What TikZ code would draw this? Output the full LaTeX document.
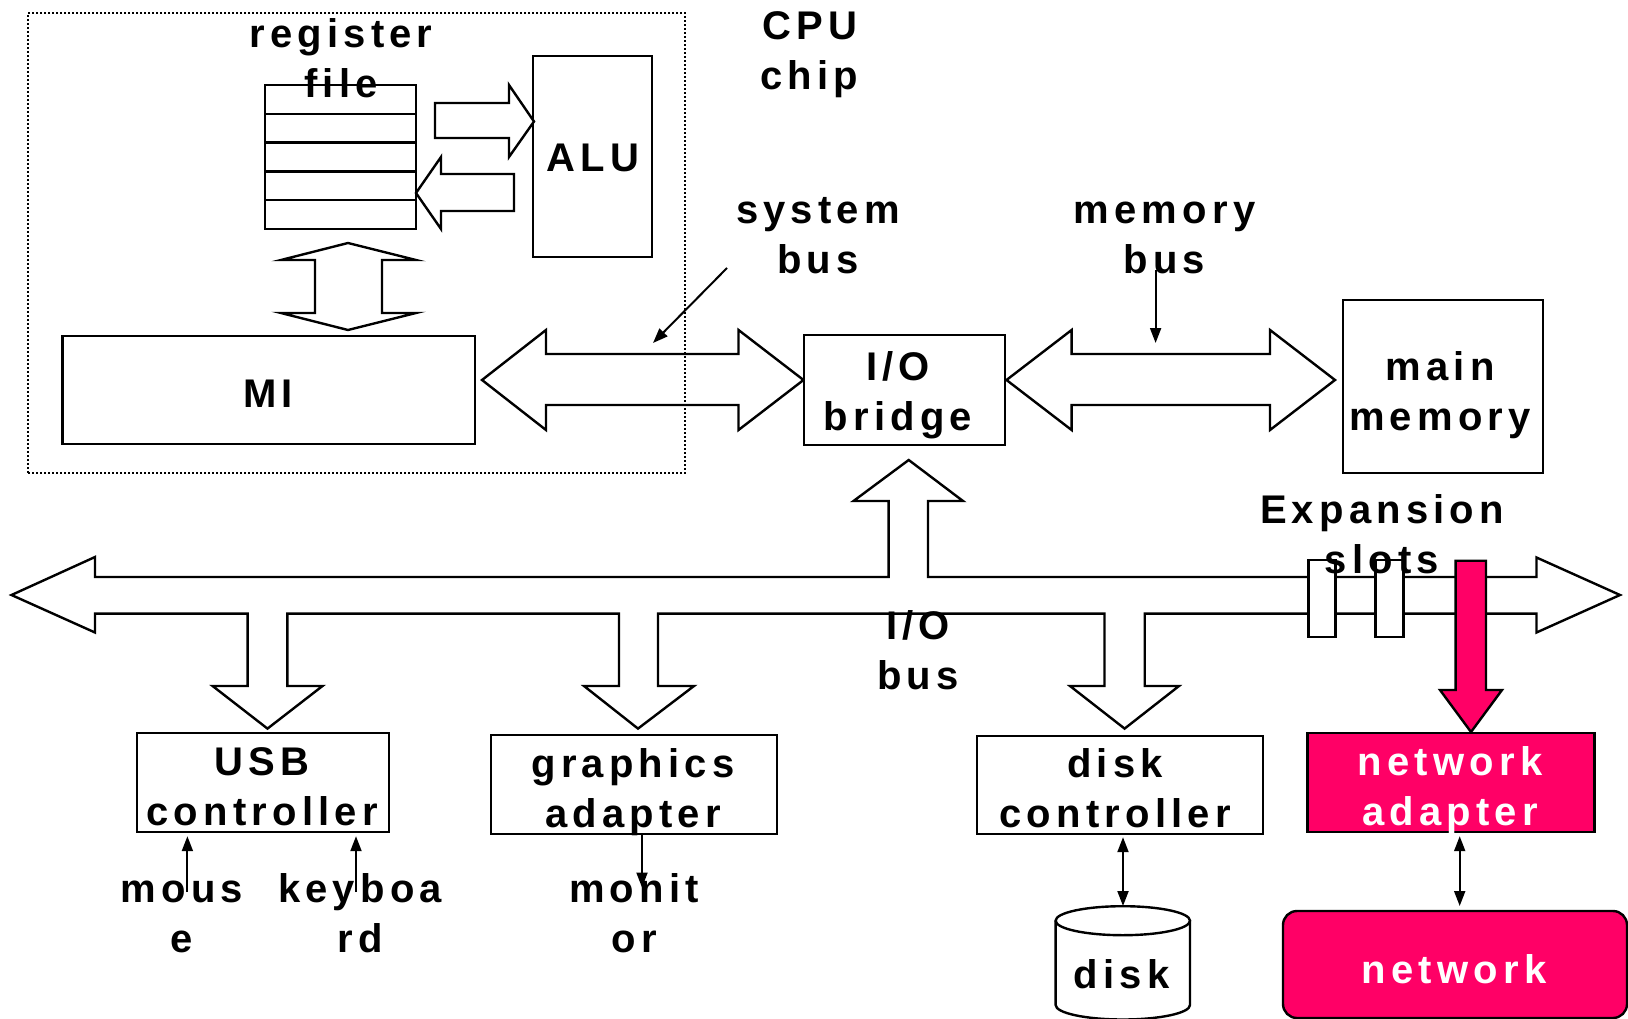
\documentclass[tikz,border=0pt]{standalone}
\usepackage{fontspec}
\setmainfont{Liberation Sans}[LetterSpace=13]
\usetikzlibrary{arrows.meta}
\definecolor{netred}{RGB}{255,0,102}
\begin{document}
\begin{tikzpicture}[x=1pt,y=-1pt,line join=miter,
  outline/.style={draw,line width=2.4pt,fill=white},
  boxnode/.style={draw,line width=2.4pt,fill=white,inner sep=0pt},
  redbox/.style={boxnode,fill=netred},
  lbl/.style={font=\bfseries\fontsize{40}{50}\selectfont,align=center,inner sep=0pt,anchor=base},
  wlbl/.style={lbl,text=white},
  ptr/.style={line width=2pt,-{Triangle[length=15pt,width=11pt]}},
  dptr/.style={line width=2pt,{Triangle[length=15pt,width=11pt]}-{Triangle[length=15pt,width=11pt]}}]

\fill[white] (0,0) rectangle (1628,1019);
\useasboundingbox (0,0) rectangle (1628,1019);

% ---------- I/O bus with its branches ----------
\draw[outline] (11.5,595) -- (95,557) -- (95,577) -- (888.6,577) -- (888.6,501)
  -- (853.5,501) -- (908.7,460) -- (963,501) -- (928,501) -- (928,577)
  -- (1536.5,577) -- (1536.5,557.5) -- (1620,595) -- (1536.5,632.5) -- (1536.5,613.6)
  -- (1144.7,613.6) -- (1144.7,686) -- (1179,686) -- (1124.6,728.6) -- (1070,686)
  -- (1104.5,686) -- (1104.5,613.6) -- (658,613.6) -- (658,686) -- (694,686)
  -- (638,728.6) -- (584,686) -- (619,686) -- (619,613.6) -- (287.4,613.6)
  -- (287.4,686) -- (322.5,686) -- (267.5,728.6) -- (212.6,686) -- (247.6,686)
  -- (247.6,613.6) -- (95,613.6) -- (95,632.5) -- cycle;

% expansion slots
\node[boxnode,minimum width=27pt,minimum height=77pt] (slot1) at (1322,598.4) {};
\node[boxnode,minimum width=28pt,minimum height=77pt] (slot2) at (1389.6,598.4) {};

% card plugged into the third slot
\draw[outline,fill=netred] (1455.6,560.7) -- (1486,560.7) -- (1486,690) -- (1502,690)
  -- (1471,732) -- (1440,690) -- (1455.6,690) -- cycle;

% ---------- system bus and memory bus ----------
\draw[outline] (482,380) -- (546,330) -- (546,354) -- (738.5,354) -- (738.5,330)
  -- (803.5,380) -- (738.5,430) -- (738.5,405) -- (546,405) -- (546,430) -- cycle;
\draw[outline] (1006.5,380) -- (1071.6,330) -- (1071.6,354) -- (1270,354) -- (1270,330)
  -- (1335,380) -- (1270,430) -- (1270,405) -- (1071.6,405) -- (1071.6,430) -- cycle;

% ---------- CPU chip ----------
\node[draw,line width=2.2pt,dash pattern=on 2pt off 2pt,minimum width=657pt,minimum height=460pt,inner sep=0pt]
  (cpu) at (356.5,242.9) {};

% register file
\node[boxnode,minimum width=151pt,minimum height=144pt] (reg) at (340.5,157) {};
\foreach \y in {113.8,142.6,171.4,200.2}
  \draw[line width=2.4pt] (265,\y) -- (416,\y);

\node[boxnode,minimum width=119pt,minimum height=201pt] (alu) at (592.5,156.5) {};

% data paths between register file and ALU
\draw[outline] (435,103) -- (509,103) -- (509,85) -- (534,121.5) -- (509,157)
  -- (509,138) -- (435,138) -- cycle;
\draw[outline] (416,193) -- (441,157) -- (441,174) -- (514,174) -- (514,211)
  -- (441,211) -- (441,229) -- cycle;

% path between register file and bus interface
\draw[outline] (348,243) -- (416,260) -- (382,260) -- (382,313) -- (416,313) -- (348,330)
  -- (281,313) -- (315,313) -- (315,260) -- (281,260) -- cycle;

\node[boxnode,minimum width=412.5pt,minimum height=108pt] (mi) at (268.75,390) {};

% ---------- other units ----------
\node[boxnode,minimum width=201pt,minimum height=110pt] (bridge) at (904.5,390) {};
\node[boxnode,minimum width=200pt,minimum height=173pt] (mem) at (1443,386.5) {};
\node[boxnode,minimum width=252pt,minimum height=99pt] (usb) at (263,782.5) {};
\node[boxnode,minimum width=286pt,minimum height=99pt] (gfx) at (633.8,784.5) {};
\node[boxnode,minimum width=286pt,minimum height=98pt] (diskc) at (1120,785) {};
\node[redbox,minimum width=287pt,minimum height=99pt] (netad) at (1451,782.5) {};
\node[redbox,rounded corners=14pt,minimum width=344pt,minimum height=107pt] (net) at (1455,964.5) {};

% disk drum
\fill[white] (1055.6,920.7) -- (1055.6,1005) arc[start angle=180,end angle=360,x radius=67.2pt,y radius=14.5pt]
  -- (1190,920.7) -- cycle;
\draw[line width=2.4pt] (1055.6,920.7) -- (1055.6,1005) arc[start angle=180,end angle=360,x radius=67.2pt,y radius=14.5pt]
  -- (1190,920.7);
\draw[outline] (1122.8,920.7) ellipse[x radius=67.2pt,y radius=14.5pt];
\coordinate (disktop) at (1123,906);

% ---------- thin connectors ----------
\coordinate (sysptr) at (727,268);
\coordinate (sysbus) at (653,343);
\draw[ptr] (sysptr) -- (sysbus);
\coordinate (memptr) at (1155.6,270);
\coordinate (membus) at (1155.6,343);
\draw[ptr] (memptr) -- (membus);

\coordinate (mouse) at (187.4,892);
\coordinate (keyboard) at (356,892);
\coordinate (monitor) at (642,887.5);
\draw[ptr] (mouse) -- ([yshift=-3pt]mouse |- usb.south);
\draw[ptr] (keyboard) -- ([yshift=-3pt]keyboard |- usb.south);
\draw[ptr] (monitor |- gfx.south) -- (monitor);
\draw[dptr] ([yshift=-2pt]disktop |- diskc.south) -- (disktop);
\coordinate (nettop) at (1459.7,906);
\draw[dptr] ([yshift=-3pt]nettop |- netad.south) -- (nettop);

% ---------- labels (base = baseline of the last line) ----------
\node[lbl] (tcpu) at (809.5,90) {CPU\\chip};
\node[lbl] (treg) at (341,98) {register\\file};
\node[lbl] (talu) at (593,172) {ALU};
\node[lbl] (tmi) at (268,407) {MI};
\node[lbl] (tsys) at (818,273) {system\\bus};
\node[lbl] (tmem) at (1164.5,273) {memory\\bus};
\node[lbl] (tbridge) at (898,430) {I/O\\bridge};
\node[lbl] (tmain) at (1440,430) {main\\memory};
\node[lbl] (texp) at (1382,573.6) {Expansion\\slots};
\node[lbl] (tio) at (918,689.6) {I/O\\bus};
\node[lbl] (tusb) at (262,825) {USB\\controller};
\node[lbl] (tgfx) at (633,827) {graphics\\adapter};
\node[lbl] (tdiskc) at (1115,827) {disk\\controller};
\node[wlbl] (tnetad) at (1450,825) {network\\adapter};
\node[lbl] (tmouse) at (182,952) {mous\\e};
\node[lbl] (tkbd) at (360,952) {keyboa\\rd};
\node[lbl] (tmon) at (634,952) {monit\\or};
\node[lbl] (tdisk) at (1121.5,988) {disk};
\node[wlbl] (tnet) at (1454,983) {network};
\end{tikzpicture}
\end{document}
